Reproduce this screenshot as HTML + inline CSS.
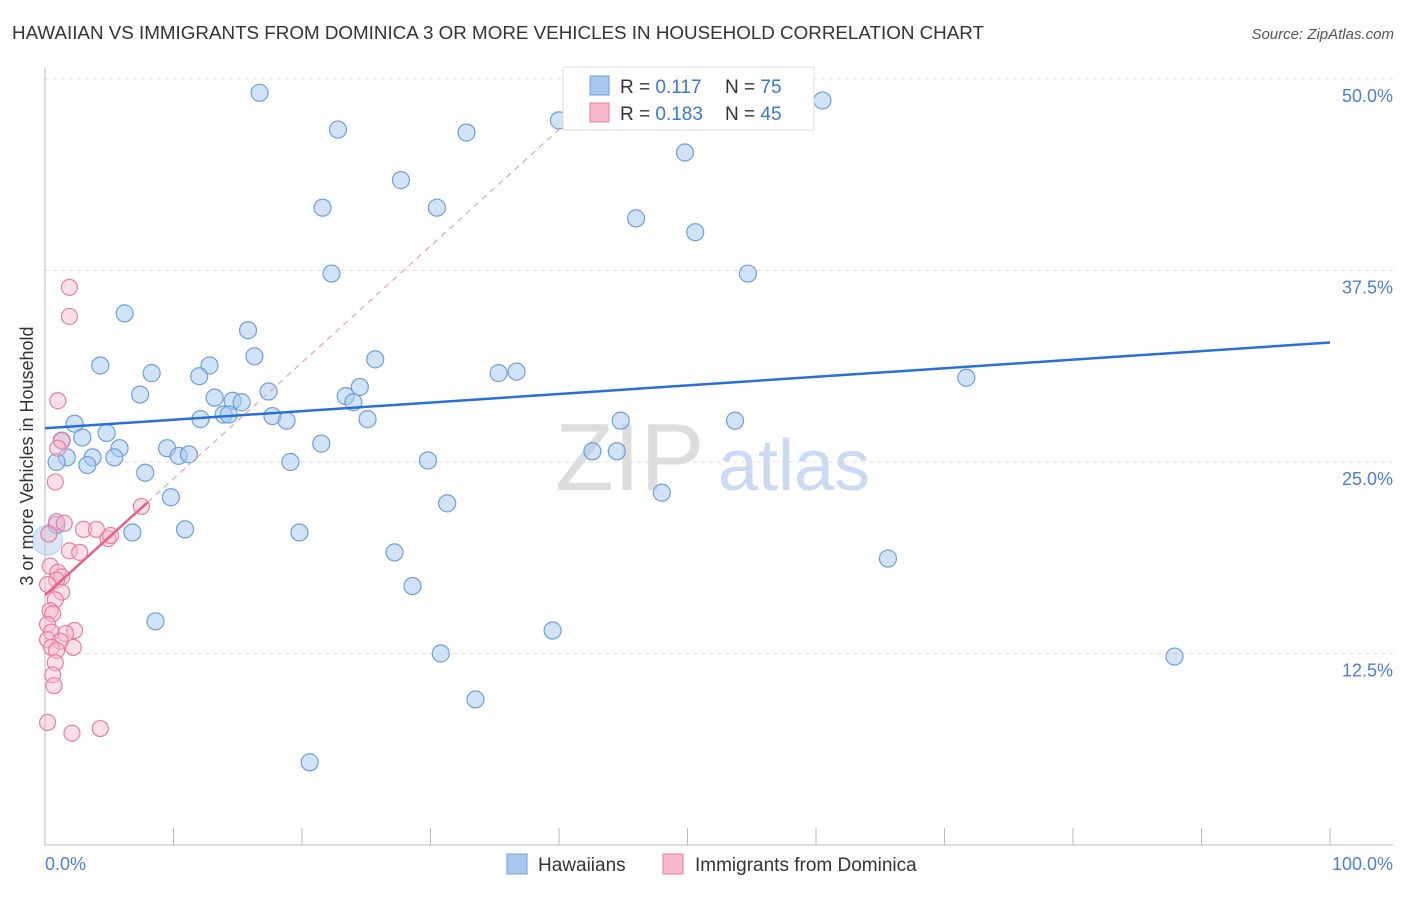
<!DOCTYPE html>
<html><head><meta charset="utf-8"><style>
body{margin:0;background:#fff;font-family:"Liberation Sans",sans-serif;}
svg text{font-family:"Liberation Sans",sans-serif;}
</style></head><body>
<svg id="chart" width="1406" height="892">
<text x="12" y="39" font-size="18" fill="#333" textLength="972" lengthAdjust="spacingAndGlyphs">HAWAIIAN VS IMMIGRANTS FROM DOMINICA 3 OR MORE VEHICLES IN HOUSEHOLD CORRELATION CHART</text>
<text x="1394" y="39" font-size="15" fill="#555" font-style="italic" text-anchor="end">Source: ZipAtlas.com</text>
<g id="grid"></g>
<text x="555" y="490" font-size="96" fill="#ddd" font-family="Liberation Serif">ZIP</text>
<text x="718" y="490" font-size="72" fill="#c9daf2">atlas</text>
<g id="pts"></g>
<g id="lines"></g>
<text transform="translate(33,456) rotate(-90)" font-size="18" fill="#333" text-anchor="middle">3 or more Vehicles in Household</text>
<text x="45" y="870" font-size="18" fill="#4a7fd4">0.0%</text>
<text x="1393" y="870" font-size="18" fill="#4a7fd4" text-anchor="end">100.0%</text>
<g>
<rect x="563" y="67" width="251" height="63" fill="#fff" stroke="#ddd"/>
<rect x="590" y="76" width="19" height="19" fill="#a8c8f0" stroke="#6a9fdf"/>
<rect x="590" y="103" width="19" height="19" fill="#f7b8cc" stroke="#e87ea0"/>
<text x="620" y="93" font-size="19" fill="#333">R = <tspan fill="#3a78d4">0.117</tspan><tspan x="725">N = </tspan><tspan fill="#3a78d4">75</tspan></text>
<text x="620" y="120" font-size="19" fill="#333">R = <tspan fill="#3a78d4">0.183</tspan><tspan x="725">N = </tspan><tspan fill="#3a78d4">45</tspan></text>
</g>
<g>
<rect x="507" y="854" width="20" height="20" fill="#a8c8f0" stroke="#6a9fdf"/>
<text x="538" y="871" font-size="19" fill="#333">Hawaiians</text>
<rect x="663" y="854" width="20" height="20" fill="#f7b8cc" stroke="#e87ea0"/>
<text x="695" y="871" font-size="19" fill="#333">Immigrants from Dominica</text>
</g>
</svg>
<script>
const yTicks=[12.5,25,37.5,50];
const yTickLabels=["12.5%","25.0%","37.5%","50.0%"];
const xTicks=[0,10,20,30,40,50,60,70,80,90,100];
const blueX=[16.7,22.8,32.8,40.0,60.5,49.8,27.7,21.6,30.5,46.0,50.6,22.3,54.7,6.2,15.8,4.3,16.3,12.8,25.7,8.3,12.0,35.3,36.7,71.7,7.4,17.4,24.5,13.2,14.6,15.3,23.4,24.0,13.9,12.1,14.3,17.7,18.8,25.1,44.8,53.7,2.3,2.9,4.8,1.3,9.5,5.8,21.5,3.7,1.7,10.4,11.2,5.4,0.9,3.3,19.1,29.8,42.6,44.5,7.8,48.0,9.8,31.3,0.9,10.9,6.8,19.8,27.2,65.6,28.6,8.6,39.5,30.8,87.9,33.5,20.6];
const blueY=[49.1,46.7,46.5,47.3,48.6,45.2,43.4,41.6,41.6,40.9,40.0,37.3,37.3,34.7,33.6,31.3,31.9,31.3,31.7,30.8,30.6,30.8,30.9,30.5,29.4,29.6,29.9,29.2,29.0,28.9,29.3,28.9,28.1,27.8,28.1,28.0,27.7,27.8,27.7,27.7,27.5,26.6,26.9,26.4,25.9,25.9,26.2,25.3,25.3,25.4,25.5,25.3,25.0,24.8,25.0,25.1,25.7,25.7,24.3,23.0,22.7,22.3,20.9,20.6,20.4,20.4,19.1,18.7,16.9,14.6,14.0,12.5,12.3,9.5,5.4];
const pinkX=[1.9,1.9,1.0,1.3,1.0,0.8,0.9,1.5,3.0,4.0,0.3,4.9,1.9,2.7,0.4,1.0,1.3,0.9,0.2,1.3,0.8,0.4,0.6,0.2,2.3,0.5,1.6,0.2,1.2,2.2,0.5,0.9,0.8,0.6,0.7,0.2,2.1,4.3,7.5,5.1];
const pinkY=[36.4,34.5,29.0,26.4,25.9,23.7,21.1,21.0,20.6,20.6,20.3,20.0,19.2,19.1,18.2,17.8,17.5,17.3,17.0,16.5,16.0,15.3,15.1,14.4,14.0,13.9,13.8,13.4,13.3,12.9,12.9,12.7,11.9,11.1,10.4,8.0,7.3,7.6,22.1,20.2];
const blueTrend=[27.2,32.8];
const pinkTrend=[16.3,0.76];
const NS="http://www.w3.org/2000/svg";
const X=v=>45+v*12.85, Y=v=>845-v*15.32;
function mk(t,a,p){const e=document.createElementNS(NS,t);for(const k in a)e.setAttribute(k,a[k]);p.appendChild(e);return e;}
const grid=document.getElementById('grid');
yTicks.forEach((t,i)=>{
 const l=mk('line',{x1:45,x2:1393,y1:Y(t),y2:Y(t),stroke:'#ddd','stroke-dasharray':'4,4'},grid);
 
 
 const tx=mk('text',{x:1393,y:Y(t)+23,'font-size':18,fill:'#4a7fd4','text-anchor':'end'},grid);
 tx.textContent=yTickLabels[i];
 
 
});
const ax=mk('line',{x1:45,x2:1393,y1:845,y2:845,stroke:'#bbb'},grid);


const ay=mk('line',{x1:45,x2:45,y1:68,y2:845,stroke:'#bbb'},grid);


xTicks.forEach(t=>{const l=mk('line',{x1:X(t),x2:X(t),y1:828,y2:845,stroke:'#bbb'},grid);
 
 });
const pts=document.getElementById('pts');
const big=mk('circle',{cx:X(0.2),cy:Y(19.9),r:15,fill:'#a8c8f0','fill-opacity':0.45,stroke:'#6a9fdf','stroke-opacity':0.4},pts);


blueX.forEach((x,i)=>{const c=mk('circle',{cx:X(x),cy:Y(blueY[i]),r:8.5,fill:'#a8c8f0','fill-opacity':0.5,stroke:'#6a9fdf','stroke-width':1.2},pts);
 
 });
pinkX.forEach((x,i)=>{const c=mk('circle',{cx:X(x),cy:Y(pinkY[i]),r:8,fill:'#f7b8cc','fill-opacity':0.45,stroke:'#e87ea0','stroke-width':1.2},pts);
 
 });
const ln=document.getElementById('lines');
const bt=mk('line',{x1:X(0),y1:Y(blueTrend[0]),x2:X(100),y2:Y(blueTrend[1]),stroke:'#2a6fd6','stroke-width':2.5},ln);


const pd=mk('line',{x1:X(8),y1:Y(pinkTrend[0]+pinkTrend[1]*8),x2:X(40),y2:Y(pinkTrend[0]+pinkTrend[1]*40),stroke:'#e8a0b8','stroke-width':1.2,'stroke-dasharray':'6,5'},ln);


const pt=mk('line',{x1:X(0),y1:Y(pinkTrend[0]),x2:X(8),y2:Y(pinkTrend[0]+pinkTrend[1]*8),stroke:'#e8608a','stroke-width':2.5},ln);


</script>
</body></html>
